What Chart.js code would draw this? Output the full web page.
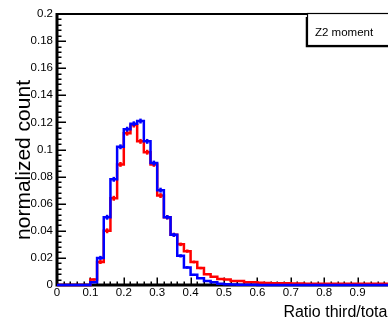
<!DOCTYPE html>
<html>
<head>
<meta charset="utf-8">
<script src="https://cdn.jsdelivr.net/npm/chart.js@4.4.1/dist/chart.umd.min.js"></script>
<style>
  html, body { margin: 0; padding: 0; background: #fff; overflow: hidden; }
  canvas { display: block; }
</style>
</head>
<body>
<canvas id="hist" width="420" height="320"></canvas>
<script>
// bin edges (50 bins of 0.02)
const binEdges = [0, 0.02, 0.04, 0.06, 0.08, 0.1, 0.12, 0.14, 0.16, 0.18,
  0.2, 0.22, 0.24, 0.26, 0.28, 0.3, 0.32, 0.34, 0.36, 0.38,
  0.4, 0.42, 0.44, 0.46, 0.48, 0.5, 0.52, 0.54, 0.56, 0.58,
  0.6, 0.62, 0.64, 0.66, 0.68, 0.7, 0.72, 0.74, 0.76, 0.78,
  0.8, 0.82, 0.84, 0.86, 0.88, 0.9, 0.92, 0.94, 0.96, 0.98, 1.0];

const redCounts = [0, 0, 0, 0, 0, 0.004, 0.017, 0.040, 0.064, 0.089,
  0.112, 0.118, 0.106, 0.098, 0.089, 0.066, 0.050, 0.037, 0.030, 0.025,
  0.017, 0.0125, 0.008, 0.006, 0.0045, 0.004, 0.003, 0.003, 0.002, 0.002,
  0.0016, 0.0014, 0.0013, 0.0012, 0.0012, 0.0011, 0.0011, 0.001, 0.001, 0.001,
  0.001, 0.001, 0.001, 0.001, 0.001, 0.001, 0.001, 0.001, 0.001, 0.001];

const blueCounts = [0, 0, 0, 0, 0, 0.002, 0.020, 0.050, 0.078, 0.102,
  0.115, 0.119, 0.121, 0.106, 0.090, 0.070, 0.050, 0.037, 0.0215, 0.013,
  0.0075, 0.005, 0.003, 0.002, 0.001, 0.0006, 0.0003, 0.0002, 0.0001, 0.0001,
  0, 0, 0, 0, 0, 0, 0, 0, 0, 0,
  0, 0, 0, 0, 0, 0, 0, 0, 0, 0];

const redErrors = [0, 0, 0, 0, 0, 0.0008, 0.0015, 0.0018, 0.0018, 0.0018,
  0.0018, 0.0018, 0.0018, 0.0018, 0.0018, 0.0018, 0.0016, 0.0015, 0.0013, 0.0012,
  0.001, 0.0009, 0.0007, 0.0006, 0.0005, 0, 0, 0, 0, 0,
  0, 0, 0, 0, 0, 0, 0, 0, 0, 0,
  0, 0, 0, 0, 0, 0, 0, 0, 0, 0];

const blueErrors = [0, 0, 0, 0, 0, 0.0006, 0.0015, 0.0018, 0.0018, 0.0018,
  0.0018, 0.0018, 0.0018, 0.0018, 0.0018, 0.0018, 0.0016, 0.0015, 0.0012, 0.0009,
  0.0007, 0.0006, 0.0004, 0, 0, 0, 0, 0, 0, 0,
  0, 0, 0, 0, 0, 0, 0, 0, 0, 0,
  0, 0, 0, 0, 0, 0, 0, 0, 0, 0];

const xTickLabels = ['0', '0.1', '0.2', '0.3', '0.4', '0.5', '0.6', '0.7', '0.8', '0.9', '1'];
const yTickLabels = ['0', '0.02', '0.04', '0.06', '0.08', '0.1', '0.12', '0.14', '0.16', '0.18', '0.2'];

const xTitle = 'Ratio third/total';
const yTitle = 'normalized count';
const boxText = 'Z2 moment';

const FONT = '"Liberation Sans", Arial, Helvetica, sans-serif';

function stepPoints(counts) {
  const pts = counts.map((v, i) => ({ x: binEdges[i], y: v }));
  pts.push({ x: binEdges[binEdges.length - 1], y: counts[counts.length - 1] });
  return pts;
}

const errs = [redErrors, blueErrors];
const vals = [redCounts, blueCounts];

// ROOT-like frame: inner ticks, thick axes, titles and the text box
const rootFrame = {
  id: 'rootFrame',
  beforeDatasetsDraw(chart) {
    const ctx = chart.ctx;
    const a = chart.chartArea;
    const xs = chart.scales.x, ys = chart.scales.y;
    ctx.save();
    ctx.strokeStyle = '#000';
    // x ticks (inside, pointing up)
    ctx.lineWidth = 1.5;
    for (let i = 0; i <= 50; i++) {
      const px = Math.round(xs.getPixelForValue(binEdges[i])) + 0.25;
      const len = (i % 5 === 0) ? 7.5 : 3.5;
      ctx.beginPath();
      ctx.moveTo(px, a.bottom);
      ctx.lineTo(px, a.bottom - len);
      ctx.stroke();
    }
    // y ticks (inside, pointing right)
    for (let i = 0; i <= 50; i++) {
      const py = Math.round(ys.getPixelForValue(i * 0.004)) + 0.25;
      const len = (i % 5 === 0) ? 9 : 4.5;
      ctx.beginPath();
      ctx.moveTo(a.left, py);
      ctx.lineTo(a.left + len, py);
      ctx.stroke();
    }
    // frame
    ctx.lineWidth = 2;
    ctx.beginPath();
    ctx.moveTo(a.left, a.top);
    ctx.lineTo(a.right, a.top);
    ctx.lineTo(a.right, a.bottom);
    ctx.stroke();
    ctx.lineWidth = 3;
    ctx.beginPath();
    ctx.moveTo(a.left, a.top - 1);
    ctx.lineTo(a.left, a.bottom);
    ctx.lineTo(a.right, a.bottom);
    ctx.stroke();
    ctx.restore();
  },
  afterDatasetDraw(chart, args) {
    const ctx = chart.ctx;
    const xs = chart.scales.x, ys = chart.scales.y;
    const ds = chart.data.datasets[args.index];
    const v = vals[args.index], e = errs[args.index];
    ctx.save();
    ctx.strokeStyle = ds.borderColor;
    ctx.lineWidth = 2.5;
    for (let i = 0; i < v.length; i++) {
      if (!e[i]) continue;
      const xc = xs.getPixelForValue((binEdges[i] + binEdges[i + 1]) / 2);
      ctx.beginPath();
      ctx.moveTo(xc, ys.getPixelForValue(v[i] + e[i]));
      ctx.lineTo(xc, ys.getPixelForValue(Math.max(0, v[i] - e[i])));
      ctx.stroke();
    }
    ctx.restore();
  },
  afterDraw(chart) {
    const ctx = chart.ctx;
    const a = chart.chartArea;
    ctx.save();
    ctx.fillStyle = '#000';
    // x title, right aligned at axis end
    ctx.font = '16px ' + FONT;
    ctx.textAlign = 'right';
    ctx.textBaseline = 'alphabetic';
    ctx.fillText(xTitle, a.right, 317);
    // y title, rotated
    ctx.translate(30, 160);
    ctx.rotate(-Math.PI / 2);
    ctx.font = '21px ' + FONT;
    ctx.textAlign = 'center';
    ctx.fillText(yTitle, 0, 0);
    ctx.setTransform(1, 0, 0, 1, 0, 0);
    // stats-like text box
    ctx.fillStyle = '#fff';
    ctx.fillRect(307.5, a.top, 120, 32);
    ctx.strokeStyle = '#000';
    ctx.lineWidth = 1.2;
    ctx.strokeRect(307.5, a.top - 0.5, 120, 32);
    ctx.lineWidth = 1.5;
    ctx.beginPath();
    ctx.moveTo(306.5, a.top + 3);
    ctx.lineTo(306.5, a.top + 32.5);
    ctx.lineTo(430, a.top + 32.5);
    ctx.stroke();
    ctx.fillStyle = '#000';
    ctx.font = '11.5px ' + FONT;
    ctx.textAlign = 'left';
    ctx.fillText(boxText, 315, 36);
    ctx.restore();
  }
};

new Chart(document.getElementById('hist'), {
  type: 'line',
  data: {
    datasets: [
      {
        label: 'red',
        data: stepPoints(redCounts),
        borderColor: '#ff0000',
        borderWidth: 2.5,
        stepped: 'before',
        pointRadius: 0,
        fill: false,
        clip: false,
        order: 2
      },
      {
        label: 'blue',
        data: stepPoints(blueCounts),
        borderColor: '#0000ff',
        borderWidth: 2.5,
        stepped: 'before',
        pointRadius: 0,
        fill: false,
        clip: false,
        order: 1
      }
    ]
  },
  options: {
    responsive: false,
    animation: false,
    devicePixelRatio: 1,
    layout: { padding: { left: 0, top: 14, right: 29, bottom: 0 } },
    plugins: { legend: { display: false }, tooltip: { enabled: false } },
    scales: {
      x: {
        type: 'linear',
        min: 0,
        max: 1,
        afterFit: (s) => { s.height = 35; },
        grid: { display: false, drawTicks: false },
        border: { display: false },
        ticks: {
          stepSize: 0.1,
          padding: 1,
          maxRotation: 0,
          autoSkip: false,
          color: '#000',
          font: { family: FONT, size: 11.5 },
          callback: (val, idx) => xTickLabels[idx]
        }
      },
      y: {
        type: 'linear',
        min: 0,
        max: 0.2,
        afterFit: (s) => { s.width = 57; },
        grid: { display: false, drawTicks: false },
        border: { display: false },
        ticks: {
          stepSize: 0.02,
          padding: 4,
          autoSkip: false,
          color: '#000',
          font: { family: FONT, size: 11.5 },
          callback: (val, idx) => yTickLabels[idx]
        }
      }
    }
  },
  plugins: [rootFrame]
});
</script>
</body>
</html>
